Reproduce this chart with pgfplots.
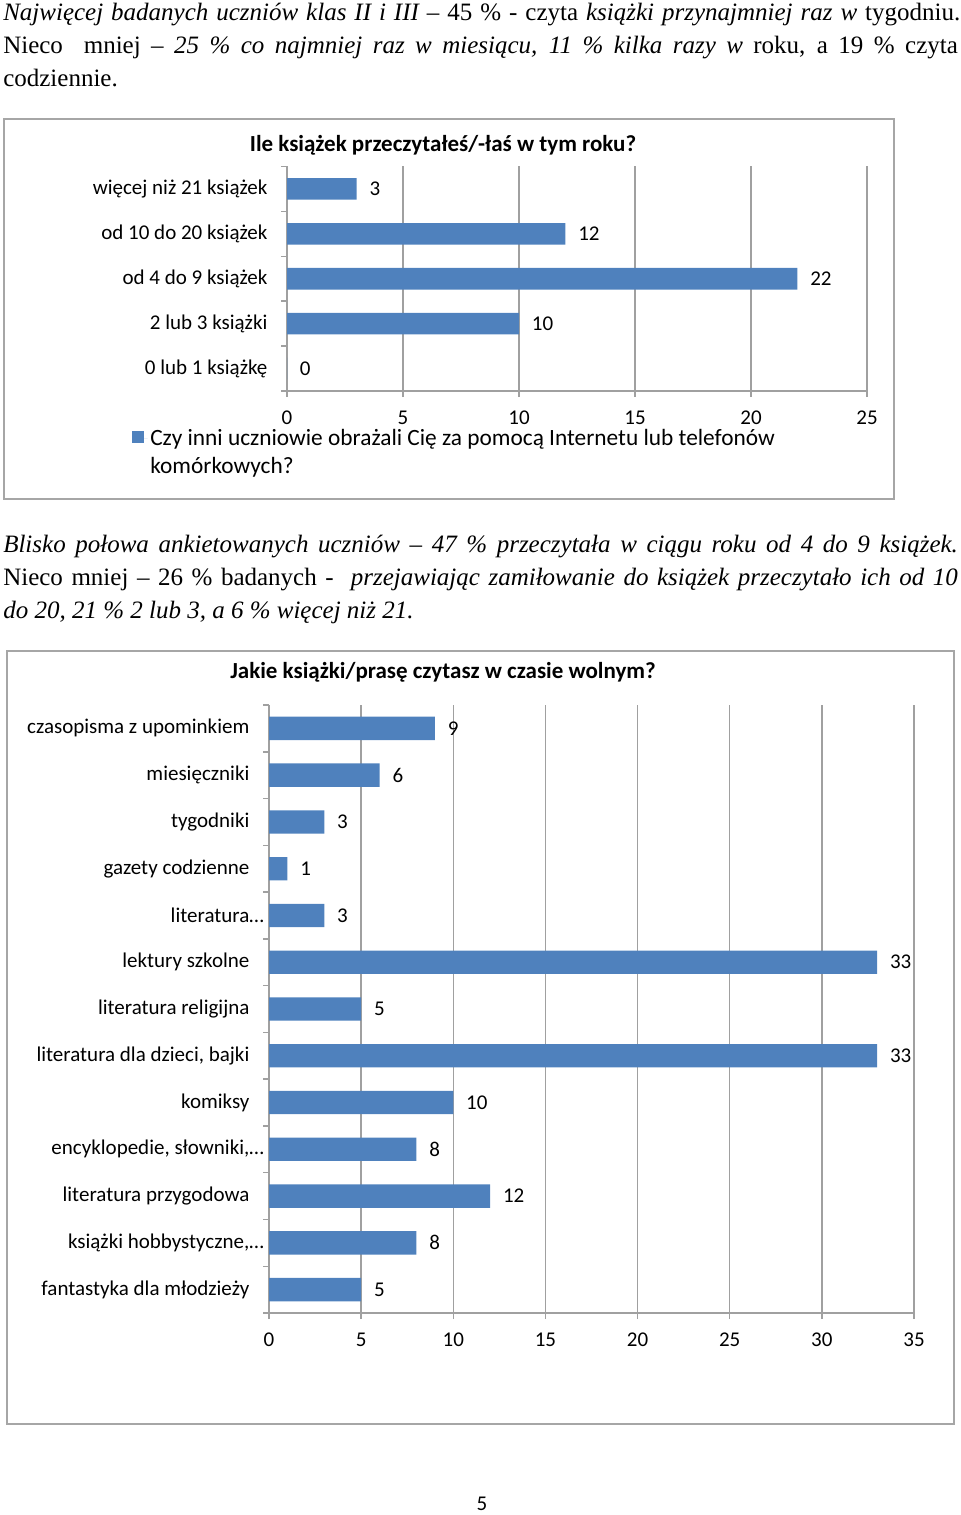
\documentclass[border=0pt]{standalone}
\usepackage{fontspec}
\setmainfont{Liberation Serif}
\newfontfamily\calibri{Carlito}
\usepackage{pgfplots}
\pgfplotsset{compat=1.18}
\definecolor{barblue}{HTML}{4F81BD}
\definecolor{gridgray}{HTML}{A0A0A0}
\definecolor{boxgray}{HTML}{A6A6A6}
\newcommand\cf{\calibri\fontsize{15.75pt}{21pt}\selectfont}
\newcommand\lf{\calibri\fontsize{17.5pt}{21pt}\selectfont}
\newcommand\tf{\fontsize{18.75pt}{24pt}\selectfont}
\pgfplotsset{mybar/.style={
  scale only axis, anchor=south west, xbar,
  axis x line*=bottom, axis y line*=left,
  axis line style={draw=gridgray, line width=1.1pt, -},
  xmajorgrids, grid style={draw=gridgray, line width=1.1pt},
  tick align=outside, major tick length=4.5pt,
  xtick style={draw=gridgray, line width=1.1pt},
  ytick style={draw=none},
  ticklabel style={font=\cf},
  /pgf/number format/assume math mode=true,
  xticklabel style={anchor=north, inner sep=0pt, yshift=-10.5pt},
  yticklabel style={anchor=east, inner sep=0pt, xshift=-10pt},
  nodes near coords, point meta=x,
  nodes near coords style={font=\cf, anchor=west, inner sep=0pt, xshift=9.5pt},
  title style={font=\calibri\bfseries\fontsize{17.25pt}{20pt}\selectfont, anchor=center, yshift=-7.5pt},
  clip=false,
}}
\begin{document}
\begin{tikzpicture}
\path[use as bounding box] (0,0) rectangle (720pt,-1136.25pt);
% paragraph 1
\node[anchor=base west, inner sep=0pt] at (2.25pt,-15.75pt) {\tf\makebox[717.75pt][s]{\textit{Najwięcej badanych uczniów klas II i III –} 45 \% - czyta \textit{książki przynajmniej raz w} tygodniu.}};
\node[anchor=base west, inner sep=0pt] at (2.25pt,-40.5pt) {\tf\makebox[716pt][s]{Nieco \ mniej – \textit{25 \% co najmniej raz w miesiącu, 11 \% kilka razy w} roku, a 19 \% czyta}};
\node[anchor=base west, inner sep=0pt] at (2.25pt,-65.25pt) {\tf codziennie.};
% paragraph 2
\node[anchor=base west, inner sep=0pt] at (2.25pt,-414pt) {\tf\makebox[716pt][s]{\textit{Blisko połowa ankietowanych uczniów – 47 \% przeczytała w ciągu roku od 4 do 9 książek.}}};
\node[anchor=base west, inner sep=0pt] at (2.25pt,-438.75pt) {\tf\makebox[716pt][s]{Nieco mniej – 26 \% badanych - \ \textit{przejawiając zamiłowanie do książek przeczytało ich od 10}}};
\node[anchor=base west, inner sep=0pt] at (2.25pt,-463.5pt) {\tf\textit{do 20, 21 \% 2 lub 3, a 6 \% więcej niż 21.}};
% chart boxes
\draw[boxgray, line width=1.4pt] (3pt,-89.25pt) rectangle (670.5pt,-374.25pt);
\draw[boxgray, line width=1.4pt] (5.25pt,-488.25pt) rectangle (715.5pt,-1068pt);
% chart 1
\begin{axis}[mybar,
  at={(215.25pt,-293.25pt)}, width=435pt, height=168.4pt,
  bar width=16.2pt,
  xmin=0, xmax=25, xtick={0,5,10,15,20,25},
  ymin=-0.5, ymax=4.5, ytick={0,1,2,3,4},
  yticklabels={0 lub 1 książkę, 2 lub 3 książki, od 4 do 9 książek, od 10 do 20 książek, więcej niż 21 książek},
  title={Ile książek przeczytałeś/-łaś w tym roku?},
  title style={at={(axis description cs:0.269,1.105)}},
  legend style={at={(axis description cs:-0.2672,-0.158)}, anchor=north west, draw=none, fill=none, inner sep=0pt, font=\lf, cells={anchor=west}},
  legend image code/.code={\path (0pt,0pt) -- (11.5pt,0pt); \fill[barblue] (0pt,-3.15pt) rectangle (9pt,5.85pt);},
  after end axis/.code={\foreach \k in {-0.5,0.5,1.5,2.5,3.5,4.5} \draw[gridgray, line width=1.1pt] (axis cs:0,\k) -- ++(-4.5pt,0);},
]
\addplot[fill=barblue, draw=none] coordinates {(0,0) (10,1) (22,2) (12,3) (3,4)};
\addlegendentry{\parbox[t]{560pt}{\lf Czy inni uczniowie obrażali Cię za pomocą Internetu lub telefonów\\komórkowych?}}
\end{axis}
% chart 2
\begin{axis}[mybar,
  at={(201.75pt,-984.75pt)}, width=483.75pt, height=456pt,
  bar width=17.5pt,
  xmin=0, xmax=35, xtick={0,5,10,15,20,25,30,35},
  ymin=-0.5, ymax=12.5, ytick={0,1,...,12},
  yticklabels={fantastyka dla młodzieży, {książki hobbystyczne,\rlap{…}}, literatura przygodowa, {encyklopedie, słowniki,\rlap{…}}, komiksy, {literatura dla dzieci, bajki}, literatura religijna, lektury szkolne, literatura\rlap{…}, gazety codzienne, tygodniki, miesięczniki, czasopisma z upominkiem},
  title={Jakie książki/prasę czytasz w czasie wolnym?},
  title style={at={(axis description cs:0.2698,1.0576)}},
  after end axis/.code={\foreach \k in {-0.5,0.5,...,12.5} \draw[gridgray, line width=1.1pt] (axis cs:0,\k) -- ++(-4.5pt,0);},
]
\addplot[fill=barblue, draw=none] coordinates {(5,0) (8,1) (12,2) (8,3) (10,4) (33,5) (5,6) (33,7) (3,8) (1,9) (3,10) (6,11) (9,12)};
\end{axis}
\node[inner sep=0pt] at (361.5pt,-1128pt) {\cf 5};
\end{tikzpicture}
\end{document}
